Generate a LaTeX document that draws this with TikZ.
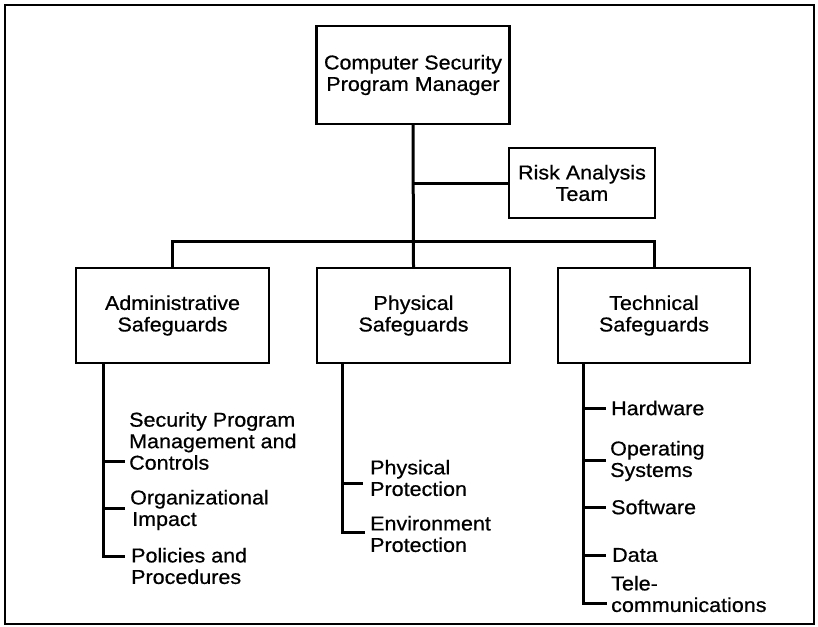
\documentclass[tikz,border=0pt]{standalone}
\usepackage{fontspec}
\setmainfont{Liberation Sans}[FakeStretch=1.075,FakeBold=0.6]
\begin{document}
\begin{tikzpicture}[x=1pt,y=-1pt,
  box/.style={draw,line width=2.4pt,inner sep=0pt,align=center,font=\fontsize{20}{21.5}\selectfont},
  item/.style={anchor=west,inner sep=0pt,align=left,font=\fontsize{20}{21.5}\selectfont},
  conn/.style={line width=3pt},
  every node/.append style={text=black}]
\useasboundingbox (0,0) rectangle (818,626);
\draw[line width=2.8pt] (5,5) rectangle (814,624);
% boxes
\node[box,minimum width=193pt,minimum height=98pt] (top) at (413,75) {Computer Security\\Program Manager};
\node[box,minimum width=146pt,minimum height=70pt] (risk) at (582,183) {Risk Analysis\\Team};
\node[box,minimum width=193pt,minimum height=95pt] (adm) at (172.5,315.5) {Administrative\\Safeguards};
\node[box,minimum width=193pt,minimum height=95pt] (phy) at (413.5,315.5) {Physical\\Safeguards};
\node[box,minimum width=192pt,minimum height=95pt] (tec) at (654,315.5) {Technical\\Safeguards};
% top connectors
\coordinate (bus) at (413.5,241);
\draw[conn] (top.south) -- (phy.north);
\draw[conn] (adm.north) |- (bus) -| (tec.north);
\draw[conn] (top.south |- risk.west) -- (risk.west);
% administrative items
\node[item] (a1) at (129,441) {Security Program\\Management and\\Controls};
\node[item] (a2) at (130,510) {Organizational\\\hspace*{2pt}Impact};
\node[item] (a3) at (131,566) {Policies and\\Procedures};
\coordinate (atop) at (103,363);
\coordinate (a1t) at (125,461);
\coordinate (a2t) at (125,508);
\coordinate (a3t) at (125,556);
\draw[conn] (atop) |- (a3t);
\draw[conn] (atop |- a1t) -- (a1t);
\draw[conn] (atop |- a2t) -- (a2t);
% physical items
\node[item] (p1) at (370,478) {Physical\\Protection};
\node[item] (p2) at (370,534) {Environment\\Protection};
\coordinate (ptop) at (342,363);
\coordinate (p1t) at (363,483);
\coordinate (p2t) at (365,532);
\draw[conn] (ptop) |- (p2t);
\draw[conn] (ptop |- p1t) -- (p1t);
% technical items
\node[item] (t1) at (611,408) {Hardware};
\node[item] (t2) at (610,461) {Operating\\Systems};
\node[item] (t3) at (611,507) {Software};
\node[item] (t4) at (612,555) {Data};
\node[item] (t5) at (611,594) {Tele-\\communications};
\coordinate (ttop) at (583,363);
\coordinate (t1t) at (606,408);
\coordinate (t2t) at (606,460);
\coordinate (t3t) at (606,507);
\coordinate (t4t) at (606,555);
\coordinate (t5t) at (607,603);
\draw[conn] (ttop) |- (t5t);
\draw[conn] (ttop |- t1t) -- (t1t);
\draw[conn] (ttop |- t2t) -- (t2t);
\draw[conn] (ttop |- t3t) -- (t3t);
\draw[conn] (ttop |- t4t) -- (t4t);
\end{tikzpicture}
\end{document}
